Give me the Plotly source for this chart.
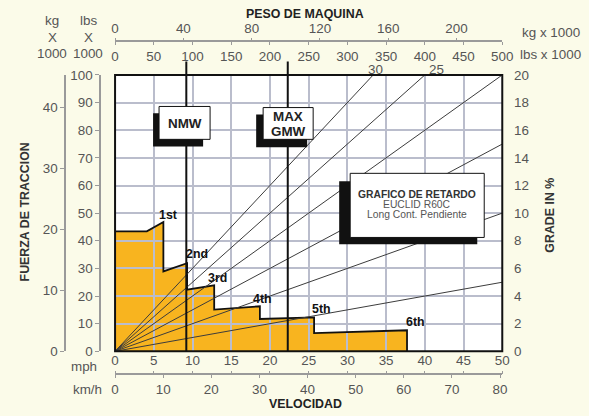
import plotly.graph_objects as go

W, H = 589, 416
LB_PER_KG = 2.20462
KMH_PER_MPH = 1.609344

# ---------------- data ----------------
speed_mph = [0, 4.1, 6.24, 6.24, 9.3, 9.3, 12.8, 12.8, 18.7, 18.7, 25.7, 25.7, 37.7, 37.7]
force_klbs = [43.4, 43.4, 46.8, 28.9, 31.9, 22.3, 23.9, 15.1, 16.3, 11.7, 12.3, 6.6, 7.6, 0]
gear_names = ["1st", "2nd", "3rd", "4th", "5th", "6th"]
gear_label_mph = [6.85, 10.6, 13.2, 19.0, 26.6, 38.8]
gear_label_klbs = [49.5, 35.1, 26.4, 18.8, 15.2, 10.5]
grades_pct = [5, 10, 15, 20, 25, 30]
grade_label_text = ["30", "25"]
grade_label_weight_klbs = [336, 415]
nmw_klbs = 92
gmw_klbs = 223
weight_max_klbs = 500
force_max_klbs = 100
speed_max_mph = 50
grade_max_pct = 20

# ---------------- layout helpers ----------------
# the photographed picture shows the page slightly reduced; positions below are
# given in picture pixels and converted back to page fractions
SX, OX = 0.974, 4.0
SY, OY = 0.9645, 5.5
FS = 1.0 / 0.969

def fx(px):
    return ((px - OX) / SX) / W

def fy(py):
    return 1 - ((py - OY) / SY) / H

def fs(size):
    return round(size * FS, 2)

FONT = "Liberation Sans, Arial, sans-serif"
TICKC = "#555555"
AXC = "#9a9a9a"
GRIDC = "#babdcc"
BG = "#fbfbe9"

x_dom = [fx(115), fx(502)]
y_dom = [fy(350), fy(73.5)]

fig = go.Figure()

# step outline of the retarder curve
fig.add_trace(go.Scatter(x=speed_mph, y=force_klbs, mode="lines",
                         line=dict(color="#111111", width=1.8),
                         xaxis="x", yaxis="y", hoverinfo="skip", showlegend=False))

# grade lines (weight vs. force)
for g in grades_pct:
    w_end = min(weight_max_klbs, force_max_klbs * 100.0 / g)
    f_end = w_end * g / 100.0
    fig.add_trace(go.Scatter(x=[0, w_end], y=[0, f_end], mode="lines",
                             line=dict(color="#3c3c3c", width=1),
                             xaxis="x3", yaxis="y", hoverinfo="skip", showlegend=False))

# invisible traces to activate secondary axes
fig.add_trace(go.Scatter(x=[0, speed_max_mph * KMH_PER_MPH], y=[0, 0], mode="markers",
                         marker=dict(opacity=0), xaxis="x2", yaxis="y",
                         hoverinfo="skip", showlegend=False))
fig.add_trace(go.Scatter(x=[0, weight_max_klbs / LB_PER_KG], y=[0, 0], mode="markers",
                         marker=dict(opacity=0), xaxis="x4", yaxis="y",
                         hoverinfo="skip", showlegend=False))
fig.add_trace(go.Scatter(x=[0, 0], y=[0, force_max_klbs / LB_PER_KG], mode="markers",
                         marker=dict(opacity=0), xaxis="x", yaxis="y2",
                         hoverinfo="skip", showlegend=False))
fig.add_trace(go.Scatter(x=[0, 0], y=[0, grade_max_pct], mode="markers",
                         marker=dict(opacity=0), xaxis="x", yaxis="y3",
                         hoverinfo="skip", showlegend=False))

tickfont = dict(family=FONT, size=fs(13), color=TICKC)

fig.update_layout(
    autosize=True,
    margin=dict(l=0, r=0, t=0, b=0, pad=0),
    paper_bgcolor=BG,
    plot_bgcolor="#ffffff",
    showlegend=False,
    hovermode=False,
    xaxis=dict(domain=x_dom, range=[0, speed_max_mph], anchor="free", position=fy(373),
               side="top", ticks="outside", ticklen=3, tickcolor=AXC, dtick=5,
               showgrid=True, gridcolor=GRIDC, gridwidth=2, zeroline=False,
               showline=True, linecolor=AXC, linewidth=1.5, tickfont=tickfont),
    xaxis2=dict(overlaying="x", range=[0, speed_max_mph * KMH_PER_MPH], anchor="free",
                position=fy(373), side="bottom", ticks="outside", ticklen=3, tickcolor=AXC,
                dtick=10, showgrid=False, zeroline=False, showline=False, tickfont=tickfont),
    xaxis3=dict(overlaying="x", range=[0, weight_max_klbs], anchor="free", position=fy(40),
                side="bottom", ticks="outside", ticklen=3, tickcolor=AXC, dtick=50,
                showgrid=False, zeroline=False, showline=True, linecolor=AXC, linewidth=1.5,
                tickfont=tickfont),
    xaxis4=dict(overlaying="x", range=[0, weight_max_klbs / LB_PER_KG], anchor="free",
                position=fy(40), side="top", ticks="outside", ticklen=3, tickcolor=AXC,
                dtick=40, showgrid=False, zeroline=False, showline=False, tickfont=tickfont),
    yaxis=dict(domain=y_dom, range=[0, force_max_klbs], anchor="free", position=fx(100),
               side="left", ticks="outside", ticklen=4, tickcolor=AXC, dtick=10,
               showgrid=True, gridcolor=GRIDC, gridwidth=2, zeroline=False,
               showline=True, linecolor=AXC, linewidth=1.5, tickfont=tickfont),
    yaxis2=dict(overlaying="y", range=[0, force_max_klbs / LB_PER_KG], anchor="free",
                position=fx(65), side="left", ticks="outside", ticklen=4, tickcolor=AXC,
                dtick=10, showgrid=False, zeroline=False, showline=True, linecolor=AXC,
                linewidth=1.5, tickfont=tickfont),
    yaxis3=dict(overlaying="y", range=[0, grade_max_pct], anchor="free", position=x_dom[1],
                side="right", ticks="outside", ticklen=8, tickcolor="rgba(0,0,0,0)",
                dtick=2, showgrid=False, zeroline=False, showline=False, tickfont=tickfont),
)

# orange retarder area (below gridlines), built from the data arrays
path = "M 0,0 " + " ".join(f"L {x},{y}" for x, y in zip(speed_mph, force_klbs)) + " Z"
shapes = [dict(type="path", path=path, xref="x", yref="y", layer="below",
               fillcolor="#f8b41f", line=dict(width=0))]

# NMW / MAX GMW vertical lines
for w in (nmw_klbs, gmw_klbs):
    shapes.append(dict(type="line", xref="x3", yref="paper", x0=w, x1=w,
                       y0=y_dom[0], y1=fy(60), line=dict(color="#111111", width=2)))

# plot frame
shapes.append(dict(type="rect", xref="x domain", yref="y domain", x0=0, x1=1, y0=0, y1=1,
                   line=dict(color="#111111", width=2)))

# boxes: shadow + white box (mph, klbs)
boxes = [
    ((4.91, 74.1, 11.37, 86.1), (5.68, 76.7, 12.27, 88.6)),
    ((18.22, 73.8, 24.81, 85.7), (19.12, 76.7, 25.58, 88.2)),
    ((28.94, 38.7, 46.77, 61.5), (30.36, 41.2, 47.67, 64.4)),
]
for sh, bx in boxes:
    shapes.append(dict(type="rect", xref="x", yref="y", x0=sh[0], y0=sh[1], x1=sh[2], y1=sh[3],
                       fillcolor="#111111", line=dict(width=0), layer="above"))
    shapes.append(dict(type="rect", xref="x", yref="y", x0=bx[0], y0=bx[1], x1=bx[2], y1=bx[3],
                       fillcolor="#ffffff", line=dict(color="#111111", width=1), layer="above"))
fig.update_layout(shapes=shapes)

ann = []
# gear labels
for name, gx, gy in zip(gear_names, gear_label_mph, gear_label_klbs):
    ann.append(dict(text=f"<b>{name}</b>", x=gx, y=gy, xref="x", yref="y", showarrow=False,
                    font=dict(family=FONT, size=fs(12), color="#111111")))
# grade labels above plot
for t, wx in zip(grade_label_text, grade_label_weight_klbs):
    ann.append(dict(text=t, x=wx, y=force_max_klbs, xref="x3", yref="y", yanchor="bottom",
                    yshift=-4, showarrow=False, font=dict(family=FONT, size=fs(13), color=TICKC)))
# box texts
def da(text, x, y, size, color, bold=False):
    if bold:
        text = f"<b>{text}</b>"
    return dict(text=text, x=x, y=y, xref="x", yref="y", showarrow=False,
                font=dict(family=FONT, size=fs(size), color=color))

ann += [
    da("NMW", 8.98, 82.6, 13, "#222222", bold=True),
    da("MAX", 22.35, 85.0, 13, "#222222", bold=True),
    da("GMW", 22.35, 79.6, 13, "#222222", bold=True),
    da("GRAFICO DE RETARDO", 39.0, 56.8, 10, "#333333", bold=True),
    da("EUCLID R60C", 39.0, 53.2, 10, "#555555"),
    da("Long Cont. Pendiente", 39.0, 49.5, 10, "#555555"),
]

# axis titles / unit labels (picture positions)
def pa(text, px, py, size=13, color=TICKC, xanchor="center", angle=0, bold=False):
    if bold:
        text = f"<b>{text}</b>"
    return dict(text=text, x=fx(px), y=fy(py), xref="paper", yref="paper", showarrow=False,
                xanchor=xanchor, yanchor="middle", textangle=angle,
                font=dict(family=FONT, size=fs(size), color=color))

ann += [
    pa("PESO DE MAQUINA", 305, 13, size=12, color="#222222", bold=True),
    pa("kg x 1000", 520, 31, xanchor="left"),
    pa("lbs x 1000", 518, 53, xanchor="left"),
    pa("kg", 52, 19.5), pa("X", 52, 36), pa("1000", 52, 52.5),
    pa("lbs", 88, 19.5), pa("X", 88, 36), pa("1000", 88, 52.5),
    pa("FUERZA DE TRACCION", 25, 211, size=12, color="#333333", angle=-90, bold=True),
    pa("GRADE IN %", 550, 214, size=12, color="#333333", angle=-90, bold=True),
    pa("mph", 99, 365, xanchor="right"),
    pa("km/h", 104, 388, xanchor="right"),
    pa("VELOCIDAD", 305, 402.5, size=12, color="#222222", bold=True),
]
fig.update_layout(annotations=ann)

# graph div fills the browser viewport exactly, pinned at the top-left corner
fig.write_html(
    "out.html",
    default_width="100vw",
    default_height="100vh; position:absolute; left:0px; top:0px; margin:0px; overflow:hidden",
    config={"displayModeBar": False},
)
